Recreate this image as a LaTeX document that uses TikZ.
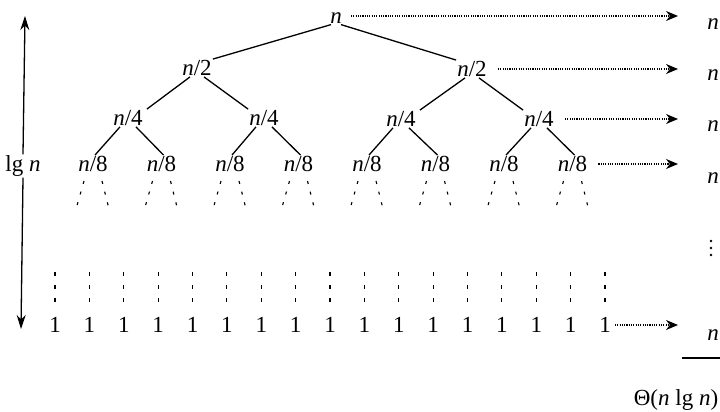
\documentclass[tikz,border=0pt]{standalone}
\usepackage{fontspec}
\setmainfont{Liberation Serif}
\usetikzlibrary{arrows.meta}
\begin{document}
\begin{tikzpicture}[x=1pt,y=-1pt,
  lbl/.style={inner sep=1pt, font=\fontsize{23}{27}\selectfont},
  treeedge/.style={line width=1.3pt},
  subdash/.style={line width=1.1pt, dash pattern=on 3pt off 8pt},
  vdash/.style={line width=1.1pt, dash pattern=on 4pt off 9pt},
  dotarrow/.style={line width=1.1pt, dash pattern=on 1.1pt off 1.2pt, -{Stealth[length=12pt,width=10pt]}},
  bigarrow/.style={line width=1.3pt, -{Stealth[length=14pt,width=9pt]}}]
\useasboundingbox (0,0) rectangle (720,412);
% tree nodes
\node[lbl] (root) at (336,18) {\textit{n}};
\node[lbl] (a1) at (197,68) {\textit{n}/2};
\node[lbl] (a2) at (472,69) {\textit{n}/2};
\node[lbl] (b1) at (128,118) {\textit{n}/4};
\node[lbl] (b2) at (264,118) {\textit{n}/4};
\node[lbl] (b3) at (401,119) {\textit{n}/4};
\node[lbl] (b4) at (539,119) {\textit{n}/4};
\foreach \i in {1,...,8}{
  \pgfmathsetmacro\cx{93+68.5*(\i-1)}
  \node[lbl] (c\i) at (\cx,164) {\textit{n}/8};
  \coordinate (dla\i) at (\cx-9,181);
  \coordinate (dlb\i) at (\cx-17,209);
  \coordinate (dra\i) at (\cx+9,181);
  \coordinate (drb\i) at (\cx+16,209);
  \draw[subdash] (dla\i) -- (dlb\i);
  \draw[subdash] (dra\i) -- (drb\i);
}
\foreach \i in {1,...,17}{
  \pgfmathsetmacro\ox{55+34.375*(\i-1)}
  \node[lbl] (o\i) at (\ox,325) {1};
  \coordinate (va\i) at (\ox,272);
  \coordinate (vb\i) at (\ox,308);
  \draw[vdash] (va\i) -- (vb\i);
}
% tree edges
\draw[treeedge] ([xshift=-5pt]root.south) -- (a1.north east);
\draw[treeedge] ([xshift=5pt]root.south) -- (a2.north west);
\draw[treeedge] ([xshift=-7pt]a1.south) -- ([xshift=3pt]b1.north east);
\draw[treeedge] ([xshift=7pt]a1.south) -- (b2.north west);
\draw[treeedge] ([xshift=-7pt]a2.south) -- ([xshift=3pt]b3.north east);
\draw[treeedge] ([xshift=7pt]a2.south) -- (b4.north west);
\draw[treeedge] ([xshift=-8pt]b1.south) -- ([xshift=2pt]c1.north);
\draw[treeedge] ([xshift=8pt]b1.south) -- ([xshift=2pt]c2.north);
\draw[treeedge] ([xshift=-8pt]b2.south) -- ([xshift=2pt]c3.north);
\draw[treeedge] ([xshift=8pt]b2.south) -- ([xshift=2pt]c4.north);
\draw[treeedge] ([xshift=-8pt]b3.south) -- ([xshift=2pt]c5.north);
\draw[treeedge] ([xshift=8pt]b3.south) -- ([xshift=2pt]c6.north);
\draw[treeedge] ([xshift=-8pt]b4.south) -- ([xshift=2pt]c7.north);
\draw[treeedge] ([xshift=8pt]b4.south) -- ([xshift=2pt]c8.north);
% right column
\coordinate (tipx) at (678,0);
\node[lbl] (r1) at (713,24) {\textit{n}};
\node[lbl] (r2) at (713,75) {\textit{n}};
\node[lbl] (r3) at (713,126) {\textit{n}};
\node[lbl] (r4) at (713,178) {\textit{n}};
\node[lbl] (r5) at (713,335) {\textit{n}};
\draw[dotarrow] ([xshift=8pt,yshift=2pt]root.east) -- ([yshift=2pt]root.east -| tipx);
\draw[dotarrow] ([xshift=10pt]a2.east) -- (a2.east -| tipx);
\draw[dotarrow] ([xshift=10pt]b4.east) -- (b4.east -| tipx);
\draw[dotarrow] ([xshift=10pt]c8.east) -- (c8.east -| tipx);
\draw[dotarrow] ([xshift=3pt]o17.east) -- (o17.east -| tipx);
\fill (711,241) circle (1.4pt) (711,248) circle (1.4pt) (711,255) circle (1.4pt);
\draw[line width=1.2pt] (682,358) -- (720,358);
\node[lbl] (theta) at (676,400) {Θ(\textit{n} lg \textit{n})};
% lg n arrow
\node[lbl] (lg) at (23,166) {lg \textit{n}};
\coordinate (ltop) at (25,16);
\coordinate (lbot) at (21,329);
\draw[bigarrow] (lg.north) -- (ltop);
\draw[bigarrow] (lg.south) -- (lbot);
\end{tikzpicture}
\end{document}
